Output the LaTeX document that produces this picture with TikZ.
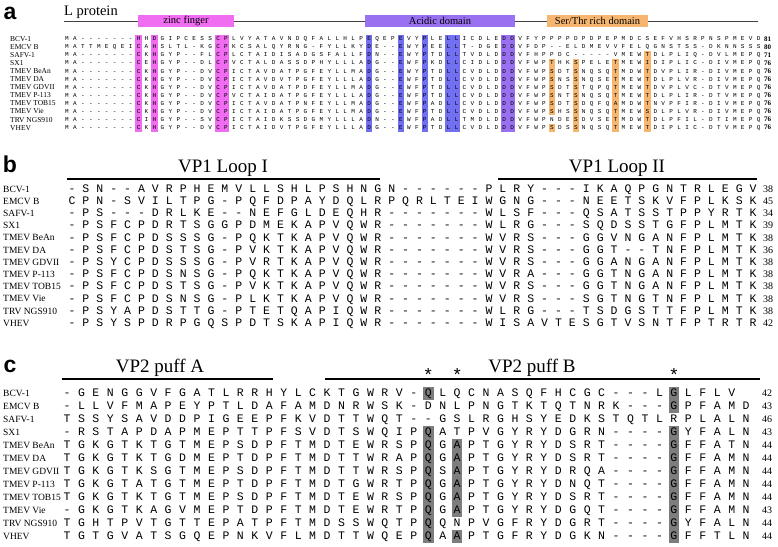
\documentclass[tikz,border=0pt]{standalone}
\usepackage{fontspec}
\setmainfont{Liberation Serif}
\newfontfamily\resfont{Liberation Mono}
\newfontfamily\panelfont{Liberation Sans}
\definecolor{zincpink}{RGB}{240,108,240}
\definecolor{acidblue}{RGB}{112,112,240}
\definecolor{acidpurple}{RGB}{152,112,240}
\definecolor{stOrange}{RGB}{246,182,112}
\definecolor{puffgrey}{RGB}{125,125,125}

% one residue per node, columns counted in \rescol
\newcount\rescol
\def\seqloop#1{%
  \ifx\relax#1\else
    \global\advance\rescol by 1
    \node[res] (\rowname-\the\rescol) at ({\colx+(\the\rescol-1)*\colw},\rowy) {#1};%
    \expandafter\seqloop
  \fi}
% shaded block: colour, first col, last col, first row, last row
\newcommand\hlcol[5]{\fill[#1] ({\colx+(#2-1)*\colw-\hlw/2},{\rowtop+(#4-1.5)*\rowh}) rectangle ({\colx+(#3-1)*\colw+\hlw/2},{\rowtop+(#5-0.5)*\rowh});}

\begin{document}
\begin{tikzpicture}[x=1pt, y=-1pt,
  ares/.style={font=\resfont\fontsize{6}{6}\selectfont, inner sep=0pt, text height=3.6pt, text depth=0pt},
  bres/.style={font=\resfont\fontsize{11.5}{11.5}\selectfont, inner sep=0pt, text height=6.6pt, text depth=0pt},
  alab/.style={font=\fontsize{7.5}{7.5}\selectfont, anchor=west, inner sep=0pt, text height=5pt, text depth=0pt},
  blab/.style={font=\fontsize{9.5}{9.5}\selectfont, anchor=west, inner sep=0pt, text height=6.3pt, text depth=0pt},
  anum/.style={font=\bfseries\fontsize{7}{7}\selectfont, anchor=west, inner sep=0pt, text height=4.7pt, text depth=0pt},
  bnum/.style={font=\fontsize{10}{10}\selectfont, anchor=west, inner sep=0pt, text height=6.6pt, text depth=0pt},
  panellet/.style={font=\panelfont\bfseries\fontsize{23}{23}\selectfont, inner sep=0pt},
  hdr/.style={font=\fontsize{19}{19}\selectfont, inner sep=0pt, anchor=base},
  hdrline/.style={line width=2pt},
  domline/.style={line width=1pt, black!75},
  dombox/.style={font=\fontsize{10.5}{10.5}\selectfont, inner sep=0pt, minimum height=12pt},
  starmark/.style={font=\resfont\fontsize{18}{18}\selectfont, inner sep=0pt, anchor=base}]

  \fill[white] (0,0) rectangle (778,546);
  \useasboundingbox (0,0) rectangle (778,546);

  % ---- a: L protein
  \node[panellet] (pa) at (10,13) {a};
  \node[font=\fontsize{14.5}{14.5}\selectfont, anchor=base west, inner sep=0pt] (lprot) at (64,15) {L protein};
  \coordinate (dom-w) at (64,21);
  \coordinate (dom-e) at (758,21);
  \draw[domline] (dom-w) -- (dom-e);
  \node[dombox, fill=zincpink, minimum width=96pt] (zinc) at (186,21) {zinc finger};
  \node[dombox, fill=acidpurple, minimum width=150pt] (acid) at (440,21) {Acidic domain};
  \node[dombox, fill=stOrange, minimum width=101pt] (serthr) at (597.5,21) {Ser/Thr rich domain};

  \def\colx{67}\def\colw{7.95}\def\rowtop{39}\def\rowh{8.05}\def\hlw{6.4}
  \hlcol{zincpink}{10}{10}{1}{12}
  \hlcol{zincpink}{12}{12}{1}{12}
  \hlcol{zincpink}{20}{21}{1}{12}
  \hlcol{acidblue}{39}{39}{1}{12}
  \hlcol{acidblue}{43}{43}{1}{12}
  \hlcol{acidblue}{46}{46}{1}{12}
  \hlcol{acidblue}{49}{50}{1}{12}
  \hlcol{acidpurple}{56}{57}{1}{12}
  \hlcol{stOrange}{62}{62}{4}{10}
  \hlcol{stOrange}{62}{62}{12}{12}
  \hlcol{stOrange}{65}{65}{4}{12}
  \hlcol{stOrange}{70}{70}{4}{12}
  \hlcol{stOrange}{74}{74}{3}{12}

  \tikzset{res/.style=ares}
  \foreach \nm/\sq/\num [count=\ri] in {
    BCV-1/MA-------HHDGIPCESSCPLVYATAVNDQFALLHLPEQEPEVYPLELLICDLEDDVFYPPPPDPDPEPMDCSEFVHSRPNSPMEVD/81,
    EMCV B/MATTMEQEICAHSLTL-KGCPKCSALQYRNG-FYLLKYDE--EWYPEELLT-DGEDDVFDP--ELDMEVVFELQGNSTSS-DKNNSSS/80,
    SAFV-1/MA-------CKHGYP--FLCPLCTAIDISADGSFALLFDN--EWYPTDLLTVDLDDDVFHPPDC-----VMEWTDLPLIQ-DVLMEPQ/71,
    SX1/MA-------CEHGYP--DLCPVCTALDASSDPHYLLLADG--EWFPKDLLCIDLDDDVFWPTHKSPELETMEWIDIPLIC-DIVMEPQ/76,
    TMEV BeAn/MA-------CKHGYP--DVCPICTAVDATPGFEYLLMADG--EWYPTDLLCVDLDDDVFWPSDTSNQSQTMDWTDVPLIR-DIVMEPQ/76,
    TMEV DA/MA-------CKHGYP--DVCPICTAVDVTPGFEYLLLADG--EWFPTDLLCVDLDDDVFWPSNSSNQSETMEWTDLPLVR-DIVMEPQ/76,
    TMEV GDVII/MA-------CKHGYP--DVCPICTAVDATPDFEYLLMADG--EWFPTDLLCVDLDDDVFWPSDTSTQPQTMEWTDVPLVC-DTVMEPQ/76,
    TMEV P-113/MA-------CKHGYP--DVCPVCTAIDATPGFEYLLLADG--EWFPTDLLCVDLDDDVFWPSNTSNQSQTMEWTDLPLIR-DTVMEPQ/76,
    TMEV TOB15/MA-------CKHGYP--DVCPICTAVDATPNFEYLLMADG--EWFPADLLCVDLDDDVFWPSDTSDQFQAMDWTNVPFIR-DIVMEPQ/76,
    TMEV Vie/MA-------CKHGYP--DVCPICTAIDATPGFEYLLMADG--EWFPTDLLCVDLDDDVFWPSHSSNQSQTMEWSDLPLVR-DIVMEPQ/76,
    TRV NGS910/MA-------CIHGYP--SVCPICTAIDKSSDGMYLLLADN--EWFPADLLTMDLDDDVFWPNDESDVSETMDWTDLPFIL-DTIMEPQ/76,
    VHEV/MA-------CKHGYP--DVCPICTAIDVTPGFEYLLLADG--EWFPTDLLCVDLDDDVFWPSDSSNQSQTMEWTDIPLIC-DTVMEPQ/76}{
    \pgfmathsetmacro\rowy{\rowtop+(\ri-1)*\rowh}
    \edef\rowname{a\ri}
    \node[alab] (a\ri-lab) at (10,\rowy) {\nm};
    \global\rescol=0
    \expandafter\seqloop\sq\relax
    \node[anum] (a\ri-num) at (764,\rowy) {\num};
  }

  % ---- b: VP1 loops
  \node[panellet] (pb) at (10,164) {b};
  \node[hdr] (loopI) at (223,172) {VP1 Loop I};
  \node[hdr] (loopII) at (617,172) {VP1 Loop II};
  \coordinate (loopI-w) at (67,179);
  \coordinate (loopI-e) at (380,179);
  \coordinate (loopII-w) at (498,179);
  \coordinate (loopII-e) at (757,179);
  \draw[hdrline] (loopI-w) -- (loopI-e);
  \draw[hdrline] (loopII-w) -- (loopII-e);

  \def\colx{72}\def\colw{13.9}\def\rowtop{189}\def\rowh{12.2}
  \tikzset{res/.style=bres}
  \foreach \nm/\sq/\num [count=\ri] in {
    BCV-1/-SN--AVRPHEMVLLSHLPSHNGN------PLRY---IKAQPGNTRLEGV/38,
    EMCV B/CPN-SVILTPG-PQFDPAYDQLRPQRLTEIWGNG---NEETSKVFPLKSK/45,
    SAFV-1/-PS---DRLKE--NEFGLDEQHR-------WLSF---QSATSSTPPYRTK/34,
    SX1/-PSFCPDRTSGGPDMEKAPVQWR-------WLRG---SQDSSTGFPLMTK/39,
    TMEV BeAn/-PSFCPDSSSG-PQKTKAPVQWR-------WVRS---GGVNGANFPLMTK/38,
    TMEV DA/-PSFCPDSTSG-PVKTKAPVQWR-------WVRS---GGT--TNFPLMTK/36,
    TMEV GDVII/-PSYCPDSSSG-PVRTKAPVQWR-------WVRS---GGANGANFPLMTK/38,
    TMEV P-113/-PSFCPDSNSG-PQKTKAPVQWR-------WVRA---GGTNGANFPLMTK/38,
    TMEV TOB15/-PSFCPDSTSG-PVKTKAPVQWR-------WVRS---GGTNGANFPLMTK/38,
    TMEV Vie/-PSFCPDSNSG-PLKTKAPVQWR-------WVRS---SGTNGTNFPLMTK/38,
    TRV NGS910/-PSYAPDSTTG-PTETQAPIQWR-------WLRG---TSDGSTTFPLMTK/38,
    VHEV/-PSYSPDRPGQSPDTSKAPIQWR-------WISAVTESGTVSNTFPTRTR/42}{
    \pgfmathsetmacro\rowy{\rowtop+(\ri-1)*\rowh}
    \edef\rowname{b\ri}
    \node[blab] (b\ri-lab) at (3,\rowy) {\nm};
    \global\rescol=0
    \expandafter\seqloop\sq\relax
    \node[bnum] (b\ri-num) at (763,\rowy) {\num};
  }

  % ---- c: VP2 puffs
  \node[panellet] (pc) at (10,366) {c};
  \node[hdr] (puffA) at (160,372) {VP2 puff A};
  \node[hdr] (puffB) at (532,372) {VP2 puff B};
  \coordinate (puffA-w) at (62,379);
  \coordinate (puffA-e) at (273,379);
  \coordinate (puffB-w) at (325,379);
  \coordinate (puffB-e) at (760,379);
  \draw[hdrline] (puffA-w) -- (puffA-e);
  \draw[hdrline] (puffB-w) -- (puffB-e);

  \def\colx{67}\def\colw{14.45}\def\rowtop{393}\def\rowh{13}\def\hlw{10.5}
  \foreach \c in {26,28,43}
    \node[starmark] (star\c) at ({\colx+(\c-1)*\colw},381) {*};
  \hlcol{puffgrey}{26}{26}{1}{1}
  \hlcol{puffgrey}{26}{26}{4}{12}
  \hlcol{puffgrey}{28}{28}{5}{10}
  \hlcol{puffgrey}{28}{28}{12}{12}
  \hlcol{puffgrey}{43}{43}{1}{2}
  \hlcol{puffgrey}{43}{43}{4}{12}

  \tikzset{res/.style=bres}
  \foreach \nm/\sq/\num [count=\ri] in {
    BCV-1/-GENGGVFGATLRRHYLCKTGWRV-QLQCNASQFHCGC---LGLFLV/42,
    EMCV B/-LLVFMAPEYPTLDAFAMDNRWSK-DNLPNGTKTQTNRK---GPFAMD/43,
    SAFV-1/TSSYSAVDDPIGEEPFKVDTTWQT--GSLRGHSYEDKSTQTLRPLALN/46,
    SX1/-RSTAPDAPMEPTTPFSVDTSWQIPQATPVGYRYDGRN----GYFALN/43,
    TMEV BeAn/TGKGTKTGTMEPSDPFTMDTEWRSPQGAPTGYRYDSRT----GFFATN/44,
    TMEV DA/TGKGTKTGDMEPTDPFTMDTTWRAPQGAPTGYRYDSRT----GFFAMN/44,
    TMEV GDVII/TGKGTKSGTMEPSDPFTMDTTWRSPQSAPTGYRYDRQA----GFFAMN/44,
    TMEV P-113/TGKGTATGTMEPTDPFTMDTGWRTPQGAPTGYRYDNQT----GFFAMN/44,
    TMEV TOB15/TGKGTKTGTMEPSDPFTMDTEWRSPQGAPTGYRYDSRT----GFFAMN/44,
    TMEV Vie/-GKGTKAGVMEPTDPFTMDTEWRTPQGAPTGYRYDGQT----GFFAMN/43,
    TRV NGS910/TGHTPVTGTTEPATPFTMDSSWQTPQQNPVGFRYDGRT----GYFALN/44,
    VHEV/TGTGVATSGQEPNKVFLMDTTWQEPQAAPTGFRYDGKN----GFFTLN/44}{
    \pgfmathsetmacro\rowy{\rowtop+(\ri-1)*\rowh}
    \edef\rowname{c\ri}
    \node[blab] (c\ri-lab) at (3,\rowy) {\nm};
    \global\rescol=0
    \expandafter\seqloop\sq\relax
    \node[bnum] (c\ri-num) at (762,\rowy) {\num};
  }
\end{tikzpicture}
\end{document}
